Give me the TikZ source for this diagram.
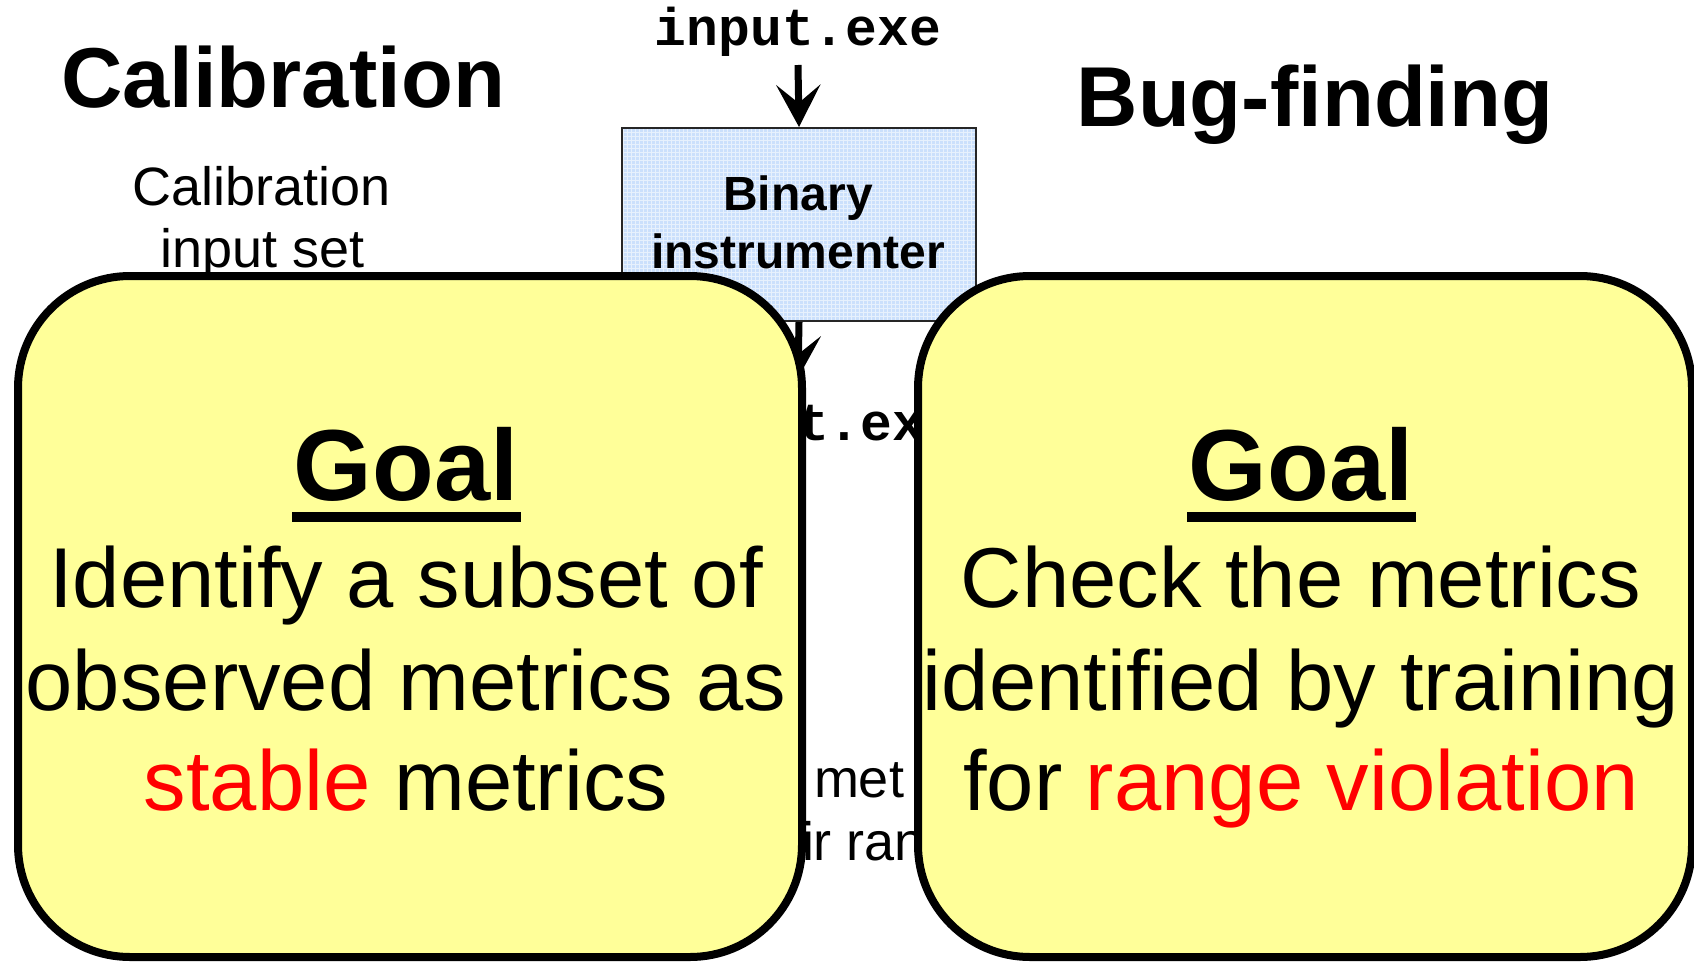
\documentclass[tikz,border=0pt]{standalone}
\usepackage{fontspec}
\setmainfont{Liberation Sans}
\setmonofont{Liberation Mono}
\usetikzlibrary{arrows.meta}

\definecolor{goalyellow}{RGB}{255,255,153}
\definecolor{instrblue}{RGB}{203,224,252}
\definecolor{alertred}{RGB}{255,0,0}

\tikzset{
  txt/.style={anchor=base, inner sep=0pt, outer sep=0pt},
  headline/.style={txt, font=\bfseries\fontsize{85}{90}\selectfont},
  plainlabel/.style={txt, font=\fontsize{54}{60}\selectfont},
  filelabel/.style={txt, font=\ttfamily\bfseries\fontsize{53}{60}\selectfont},
  instrlabel/.style={txt, font=\bfseries\fontsize{48}{52}\selectfont},
  goalhead/.style={txt, font=\bfseries\fontsize{101}{110}\selectfont},
  goalline/.style={txt, font=\fontsize{85}{100}\selectfont},
  instrbox/.style={rectangle, draw=black!85, line width=2pt, fill=instrblue,
    minimum width=354pt, minimum height=193pt, inner sep=0pt, anchor=north west,
    path picture={\draw[white, opacity=0.55, line width=0.8pt]
      (path picture bounding box.south west) grid[step=4pt]
      (path picture bounding box.north east);}},
  goalbox/.style={rectangle, draw=black, line width=8pt, fill=goalyellow,
    rounded corners=112pt, minimum width=784pt, minimum height=681pt,
    inner sep=0pt, anchor=north west},
  flow/.style={line width=7pt, -{Stealth[length=42pt, width=44pt, inset=18pt]}},
}

\begin{document}
\begin{tikzpicture}[x=1pt, y=-1pt]
  \useasboundingbox (0,0) rectangle (1694,961);

  % section headings
  \node[headline] (calibtitle) at (283,107) {Calibration};
  \node[headline] (bugtitle) at (1315,126) {Bug-finding};

  % calibration input label (partly covered by the goal box)
  \node[plainlabel] (calibin1) at (262,205) {Calibration};
  \node[plainlabel] (calibin2) at (263,267) {input set};

  % instrumentation stage
  \node[filelabel] (input) at (798,45) {input.exe};
  \node[instrbox] (instr) at (621,127) {};
  \node[instrlabel] (instr1) at (798,210) {Binary};
  \node[instrlabel] (instr2) at (798,268) {instrumenter};
  \draw[flow] ([yshift=-9pt]input.south) -- (instr.north);
  \coordinate (outtip) at (798,378);
  \draw[flow] (instr.south) -- (outtip);

  % labels peeking out between the two goal boxes
  \node[filelabel, anchor=base west] (outfile) at (797,440) {t.ex};
  \node[plainlabel, anchor=base west] (metlabel) at (814,797) {met};
  \node[plainlabel, anchor=base west] (rangelabel) at (802,860) {ir ran};

  % goal boxes
  \node[goalbox] (calibbox) at (14,272) {};
  \node[goalbox, minimum width=774pt] (bugbox) at (914,272) {};

  % calibration goal
  \node[goalhead] (cgoal) at (406,500) {Goal};
  \fill ([xshift=-2pt, yshift=-12pt]cgoal.base west) rectangle ([xshift=3pt, yshift=-22pt]cgoal.base east);
  \node[goalline] (cl1) at (406,607) {Identify a subset of};
  \node[goalline] (cl2) at (406,710) {observed metrics as};
  \node[goalline] (cl3) at (406,810) {\textcolor{alertred}{stable} metrics};

  % bug-finding goal
  \node[goalhead] (bgoal) at (1301,500) {Goal};
  \fill ([xshift=-2pt, yshift=-12pt]bgoal.base west) rectangle ([xshift=3pt, yshift=-22pt]bgoal.base east);
  \node[goalline] (bl1) at (1301,607) {Check the metrics};
  \node[goalline] (bl2) at (1301,710) {identified by training};
  \node[goalline] (bl3) at (1301,810) {for \textcolor{alertred}{range violation}};
\end{tikzpicture}
\end{document}
